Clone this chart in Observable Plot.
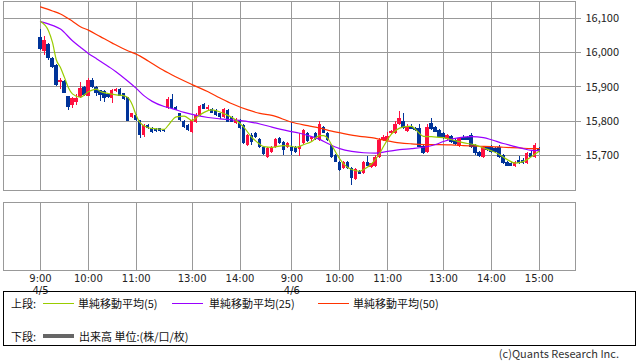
<!DOCTYPE html>
<html><head><meta charset="utf-8">
<script src="https://cdn.jsdelivr.net/npm/d3@7"></script>
<script src="https://cdn.jsdelivr.net/npm/@observablehq/plot@0.6"></script>
<style>
body{margin:0;background:#fff;font-family:"Noto Sans CJK JP",sans-serif;}
#wrap{position:relative;width:638px;height:362px;overflow:hidden;background:#fff;}
#wrap svg{position:absolute;left:0;}
.t{position:absolute;font-size:11px;line-height:12px;color:#111;white-space:nowrap;}
.ln{position:absolute;height:1px;}
#box{position:absolute;left:3px;top:291px;width:633px;height:55px;border:1px solid #000;box-sizing:border-box;}
</style></head><body><div id="wrap"></div>
<script>
// ---- data (5-minute candles, two sessions) ----
const opens = [16045,16003,16023,15982,15964,15912,15916,15872,15846,15855,
15870,15898,15873,15919,15899,15889,15887,15878,15865,15887,
15892,15880,15869,15811,15817,15802,15758,15787,15779,15776,
15778,15773,15837,15863,15840,15822,15800,15787,15767,15796,
15817,15849,15834,15834,15831,15822,15811,15831,15811,15793,
15802,15787,15729,15758,15764,15747,15723,15694,15709,15723,
15750,15738,15723,15723,15723,15718,15735,15764,15747,15764,
15744,15782,15764,15729,15700,15680,15662,15680,15662,15630,
15653,15648,15680,15665,15668,15694,15744,15744,15764,15764,
15790,15799,15770,15785,15779,15779,15726,15709,15793,15782,
15773,15764,15747,15755,15744,15726,15752,15752,15758,15729,
15709,15694,15723,15723,15720,15723,15700,15680,15677,15668,
15685,15685,15677,15706,15694,15720];
const highs = [16067,16047,16026,15985,15965,15926,15918,15872,15870,15879,
15914,15900,15924,15924,15902,15891,15889,15880,15892,15896,
15895,15882,15870,15822,15820,15802,15790,15790,15782,15779,
15780,15775,15870,15878,15842,15824,15802,15790,15805,15822,
15846,15852,15846,15838,15834,15824,15837,15834,15813,15808,
15805,15790,15761,15764,15767,15750,15726,15723,15726,15750,
15753,15741,15738,15796,15726,15764,15776,15767,15755,15767,
15799,15785,15767,15732,15703,15683,15683,15683,15665,15662,
15656,15683,15697,15677,15700,15750,15758,15767,15773,15799,
15829,15822,15790,15790,15782,15790,15729,15790,15808,15785,
15776,15767,15761,15758,15747,15753,15758,15756,15764,15732,
15712,15726,15726,15728,15723,15729,15703,15683,15680,15683,
15697,15690,15709,15712,15735,15724];
const lows = [16006,15991,15978,15953,15902,15894,15880,15830,15836,15847,
15867,15872,15873,15896,15872,15857,15855,15866,15851,15885,
15872,15860,15799,15808,15800,15750,15752,15776,15764,15766,
15768,15767,15835,15835,15830,15800,15780,15770,15764,15793,
15814,15833,15831,15822,15815,15805,15808,15796,15795,15790,
15776,15732,15726,15729,15750,15720,15700,15691,15706,15720,
15732,15700,15720,15700,15706,15697,15732,15738,15741,15744,
15741,15764,15741,15691,15680,15653,15659,15659,15613,15627,
15644,15645,15668,15662,15665,15691,15741,15741,15762,15762,
15787,15776,15767,15776,15770,15723,15703,15706,15773,15767,
15750,15747,15744,15735,15729,15723,15744,15744,15720,15700,
15694,15691,15712,15706,15706,15691,15674,15668,15668,15665,
15674,15674,15674,15694,15691,15709];
const closes = [16009,16035,15984,15956,15904,15919,15882,15841,15867,15867,
15896,15875,15919,15899,15880,15875,15865,15868,15889,15894,
15873,15863,15800,15822,15802,15758,15787,15779,15768,15770,
15770,15769,15863,15837,15831,15802,15782,15773,15802,15817,
15843,15834,15840,15822,15817,15811,15834,15796,15796,15805,
15779,15735,15758,15738,15752,15723,15703,15720,15723,15747,
15735,15715,15735,15712,15709,15726,15773,15741,15752,15747,
15790,15764,15744,15694,15680,15656,15680,15662,15633,15659,
15645,15680,15668,15677,15694,15744,15753,15755,15770,15790,
15808,15779,15785,15776,15773,15723,15706,15782,15776,15767,
15753,15750,15758,15738,15732,15750,15744,15744,15723,15706,
15697,15723,15715,15709,15709,15694,15677,15668,15668,15680,
15677,15677,15706,15694,15729,15712];

// moving averages read at sample bars
const ma5Idx = [0,2,3,4,5,6,7,8,10,12,14,15,17,19,21,22,23,24,25,27,29,31,32,34,36,38,39,41,43,44,46,48,49,51,53,54,56,58,61,63,64,66,68,70,71,72,73,75,76,78,80,81,83,85,86,88,90,92,93,94,96,98,101,104,107,109,111,113,115,117,119,121,123,125];
const ma5 = [16091,16064,16030,15978,15957,15928,15898,15880,15870,15886,15894,15887,15881,15877,15874,15868,15848,15817,15795,15781,15778,15776,15788,15813,15815,15802,15810,15826,15833,15831,15822,15811,15803,15782,15752,15742,15726,15724,15729,15727,15724,15732,15741,15758,15758,15750,15730,15690,15675,15659,15654,15659,15676,15706,15727,15763,15780,15785,15785,15776,15756,15755,15752,15743,15735,15731,15722,15714,15703,15688,15678,15682,15696,15713];
const ma25Idx = [0,3,5,8,10,12,14,17,19,22,24,26,28,31,33,36,38,42,45,48,52,55,58,62,65,68,70,72,75,78,81,84,87,90,93,96,99,101,105,108,111,113,116,118,121,123,125];
const ma25 = [16091,16080,16069,16035,16016,15998,15983,15960,15944,15916,15896,15874,15858,15843,15837,15826,15820,15811,15807,15804,15799,15792,15783,15772,15765,15755,15747,15735,15720,15712,15708,15707,15712,15717,15720,15724,15732,15741,15752,15755,15752,15746,15735,15729,15720,15715,15714];
const ma50Idx = [0,3,5,8,10,12,15,18,22,24,27,30,33,38,42,45,48,52,55,58,63,67,70,73,76,80,83,86,90,93,96,100,103,106,110,113,116,120,123,125];
const ma50 = [16134,16122,16113,16092,16076,16066,16047,16028,16005,15996,15976,15954,15935,15907,15886,15868,15851,15833,15823,15817,15797,15787,15780,15771,15764,15756,15752,15745,15737,15734,15732,15732,15731,15729,15727,15726,15724,15722,15720,15720];

const tickIdx = [0,12,24,38,50,63,75,87,101,113,125];
const tickTimes = ["9:00","10:00","11:00","13:00","14:00","9:00","10:00","11:00","13:00","14:00","15:00"];
const tickDates = ["4/5","","","","","4/6","","","","",""];
const yTicks = [15700,15800,15900,16000,16100];

const legendItems = [
  {label:"単純移動平均(5)", color:"#99cc00"},
  {label:"単純移動平均(25)", color:"#9900ff"},
  {label:"単純移動平均(50)", color:"#ff3300"}
];

// ---- build ----
const RED = "#ff1040", BLUE = "#003399", GRID = "#999999";
const candles = opens.map((o,i)=>({i, open:o, high:highs[i], low:lows[i], close:closes[i], c: closes[i] >= o ? RED : BLUE}));
const mk = (idx, vals) => idx.map((i,k)=>({i, v: vals[k]}));
const xDomain = [(3-40)/3.99, (575-40)/3.99];
const style = {fontFamily:'"Noto Sans CJK JP", sans-serif', fontSize:"11px", background:"transparent", overflow:"visible"};

const upper = Plot.plot({
  width:638, height:192, marginLeft:3, marginRight:63, marginTop:1, marginBottom:2,
  x:{type:"linear", domain:xDomain, axis:null},
  y:{domain:[15597.8,16149.6], axis:null},
  style,
  marks:[
    Plot.gridY(yTicks,{stroke:GRID, strokeOpacity:1, shapeRendering:"crispEdges"}),
    Plot.gridX(tickIdx,{stroke:GRID, strokeOpacity:1, shapeRendering:"crispEdges"}),
    Plot.axisY(yTicks,{anchor:"right", tickSize:5, tickPadding:5, tickFormat:d3.format(","), stroke:GRID, color:"#222", shapeRendering:"crispEdges"}),
    Plot.ruleX(candles,{x:"i", y1:"low", y2:"high", stroke:"c", strokeWidth:1, shapeRendering:"crispEdges"}),
    Plot.rect(candles,{x1:d=>d.i-0.42, x2:d=>d.i+0.42, y1:d=>Math.min(d.open,d.close), y2:d=>Math.max(d.open,d.close), fill:"c", shapeRendering:"crispEdges"}),
    Plot.line(mk(ma50Idx,ma50),{x:"i", y:"v", stroke:legendItems[2].color, strokeWidth:1.2, curve:"monotone-x"}),
    Plot.line(mk(ma25Idx,ma25),{x:"i", y:"v", stroke:legendItems[1].color, strokeWidth:1.2, curve:"monotone-x"}),
    Plot.line(mk(ma5Idx,ma5),{x:"i", y:"v", stroke:legendItems[0].color, strokeWidth:1.2, curve:"monotone-x"}),
    Plot.frame({stroke:GRID, shapeRendering:"crispEdges"})
  ]
});

const lower = Plot.plot({
  width:638, height:102, marginLeft:3, marginRight:63, marginTop:10, marginBottom:24,
  x:{type:"linear", domain:xDomain, axis:null},
  y:{domain:[0,1], axis:null},
  style,
  marks:[
    Plot.gridX(tickIdx,{stroke:GRID, strokeOpacity:1, shapeRendering:"crispEdges"}),
    Plot.axisX(tickIdx,{anchor:"bottom", tickSize:0, tickPadding:3, lineHeight:1.2, fontSize:10,
      fontFamily:'"DejaVu Sans", sans-serif', color:"#222",
      tickFormat:d=>{const k=tickIdx.indexOf(d); return tickDates[k] ? tickTimes[k]+"\n"+tickDates[k] : tickTimes[k];}}),
    Plot.frame({stroke:GRID, shapeRendering:"crispEdges"})
  ]
});

const wrap = document.getElementById("wrap");
upper.style.top = "0px";
lower.style.top = "192px";
wrap.appendChild(upper);
wrap.appendChild(lower);

function add(html){ const d=document.createElement("div"); d.innerHTML=html; const el=d.firstElementChild; wrap.appendChild(el); return el; }
add('<div id="box"></div>');
add('<div class="t" style="left:11px;top:297px">上段:</div>');
const lineX = [43,172,318], textX = [78,209,353];
legendItems.forEach((it,k)=>{
  add(`<div class="ln" style="left:${lineX[k]}px;top:303px;width:31px;background:${it.color}"></div>`);
  add(`<div class="t" style="left:${textX[k]}px;top:297px">${it.label}</div>`);
});
add('<div class="t" style="left:11px;top:330px">下段:</div>');
add('<div class="ln" style="left:43px;top:334px;width:31px;height:4px;background:#666"></div>');
add('<div class="t" style="left:79px;top:330px">出来高 単位:(株/口/枚)</div>');
add('<div class="t" style="right:19px;top:347px;color:#333">(c)Quants Research Inc.</div>');
</script></body></html>
